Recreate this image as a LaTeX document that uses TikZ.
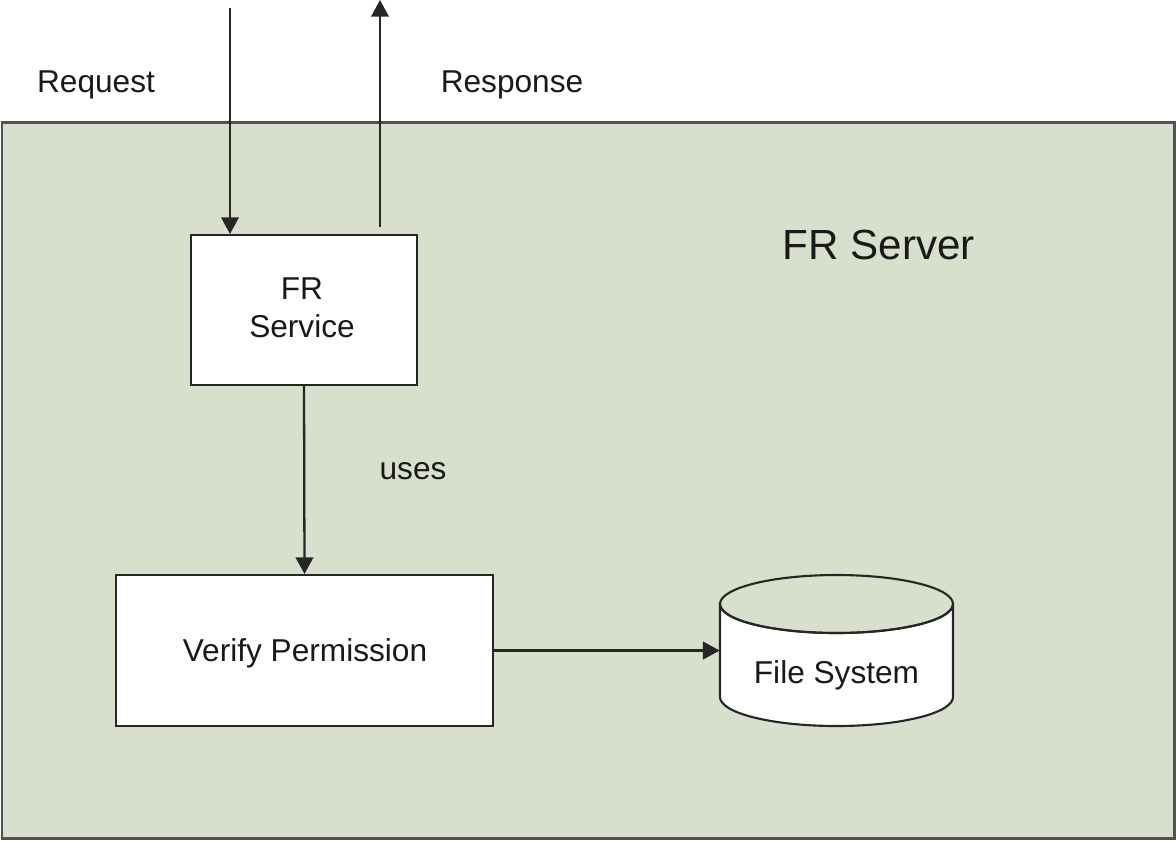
\documentclass[tikz,border=0pt]{standalone}
\usepackage{fontspec}
\setmainfont{Liberation Sans}
\usetikzlibrary{arrows.meta,calc}
\definecolor{serverfill}{RGB}{216,224,205}
\definecolor{serverline}{RGB}{80,84,80}
\definecolor{inktext}{RGB}{25,25,25}
\begin{document}
\begin{tikzpicture}[x=0.02cm,y=-0.02cm,
  box/.style={draw=black!85,line width=1.2pt,fill=white,inner sep=0pt},
  lbl/.style={text=inktext,font=\fontsize{18}{21.5}\selectfont,align=center,inner sep=0pt},
  conn/.style={draw=black!85,line width=1.3pt,-{Triangle[width=10pt,length=9.5pt]}}]
  \useasboundingbox (0,0) rectangle (1176,840);

  % server area
  \draw[fill=serverfill,draw=serverline,line width=1.7pt] (2,122) rectangle (1174,838);
  \node[lbl,font=\fontsize{24}{28}\selectfont] (srv) at (879,245) {FR Server};

  % FR service
  \node[box,minimum width=4.52cm,minimum height=3cm] (svc) at (304,310) {};
  \node[lbl] (svclbl) at (302,308) {FR\\Service};

  % permission check
  \node[box,minimum width=7.54cm,minimum height=3.02cm] (vp) at (304.5,650.5) {};
  \node[lbl] (vplbl) at (305,653) {Verify Permission};

  % file system cylinder
  \node[minimum width=4.66cm,minimum height=3.02cm,inner sep=0pt] (fs) at (836.5,650.5) {};
  \draw[box] (720,604) -- (720,697) arc[start angle=180,end angle=0,x radius=116.5,y radius=29]
    -- (953,604) arc[start angle=0,end angle=180,x radius=116.5,y radius=29] -- cycle;
  \draw[draw=black!85,line width=1.2pt] (836.5,604) ellipse[x radius=116.5,y radius=29];
  \node[lbl] (fslbl) at (836.5,675) {File System};

  % request / response
  \coordinate (reqtop) at (230,8);
  \coordinate (resptop) at (380,0);
  \draw[conn] (reqtop) -- (reqtop |- svc.north);
  \draw[conn,shorten <=7*0.02cm] (resptop |- svc.north) -- (resptop);
  \node[lbl] (req) at (96,85) {Request};
  \node[lbl] (resp) at (512,85) {Response};

  % uses
  \draw[conn] (svc.south) -- (vp.north);
  \node[lbl] (uses) at (413,471) {uses};

  % permission check reads files
  \draw[conn] (vp.east) -- (fs.west);
\end{tikzpicture}
\end{document}
